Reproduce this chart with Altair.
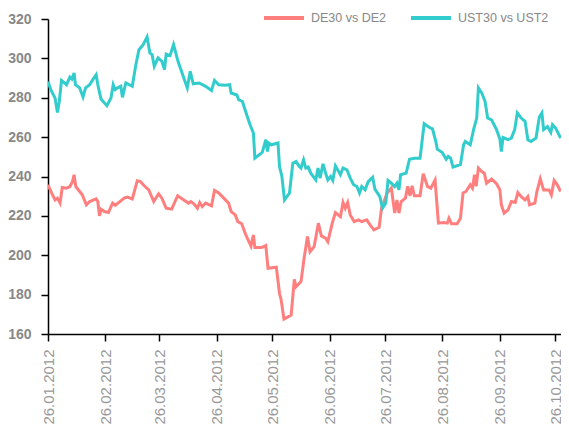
import altair as alt
import pandas as pd

start_date = "2012-01-26"

# DE30 vs DE2 (days after 26.01.2012, spread in bp)
de_days = [0, 2.0, 3.8, 5.1, 6.5, 7.7, 10.0, 11.8, 13.2, 14.1, 15.0, 17.1, 18.5, 20.7, 22.5,
           26.0, 26.9, 27.8, 28.6, 30.5, 32.6, 34.9, 36.3, 39.3, 41.1, 42.9, 45.5, 48.2, 49.9,
           51.8, 54.4, 57.1, 59.7, 61.5, 63.8, 66.8, 68.6, 70.0, 72.7, 75.9, 77.1, 78.9, 80.7,
           81.9, 83.3, 85.1, 88.3, 89.9, 92.2, 94.9, 97.5, 98.9, 101.1, 102.5, 104.6, 106.8,
           109.6, 110.9, 111.7, 115.3, 117.6, 118.8, 123.3, 125.0, 125.9, 127.4, 131.3, 133.0,
           133.9, 136.6, 138.3, 140.1, 141.5, 143.7, 146.0, 147.6, 149.9, 151.1, 153.5, 155.2,
           157.9, 159.3, 160.5, 161.8, 163.2, 165.3, 167.6, 169.4, 172.1, 173.9, 176.0, 178.8,
           180.1, 183.1, 185.4, 187.2, 188.4, 189.5, 190.7, 193.0, 194.2, 195.5, 196.6, 197.8,
           200.9, 202.6, 204.9, 206.7, 209.0, 210.8, 213.8, 215.6, 216.5, 217.9, 220.9, 222.7,
           224.1, 225.7, 228.0, 229.2, 230.3, 231.2, 232.4, 234.2, 235.6, 236.8, 239.5, 242.2,
           244.0, 244.8, 246.3, 248.4, 250.2, 252.3, 253.7, 255.5, 257.6, 259.1, 260.0, 262.9,
           264.0, 265.8, 267.6, 270.6, 271.8, 273.3, 275.0, 276.8]
de_vals = [235.8, 231.6, 228.1, 229.0, 226.5, 234.4, 234.1, 234.9, 237.4, 240.9, 234.9, 232.4,
           230.7, 225.6, 227.3, 228.6, 227.3, 220.0, 223.4, 222.2, 221.7, 226.5, 225.4, 227.6,
           229.0, 229.5, 228.6, 237.8, 237.4, 235.4, 233.2, 227.3, 231.2, 229.0, 223.9, 223.4,
           227.3, 230.2, 228.5, 226.5, 227.3, 226.0, 223.9, 226.8, 224.7, 226.5, 225.1, 232.9,
           231.6, 229.0, 226.5, 222.2, 220.5, 217.1, 216.0, 210.3, 204.7, 210.3, 203.9, 203.9,
           204.9, 193.4, 193.9, 180.7, 177.3, 167.6, 169.6, 187.8, 184.0, 186.6, 198.5, 209.5,
           201.8, 204.4, 216.3, 209.8, 208.7, 206.9, 216.3, 221.7, 219.6, 226.8, 223.9, 226.8,
           220.5, 217.1, 218.0, 217.1, 218.0, 215.4, 212.9, 214.2, 223.9, 231.6, 234.1, 221.4,
           228.1, 221.4, 227.3, 229.0, 235.0, 230.2, 235.3, 230.2, 230.2, 241.4, 235.0, 234.1,
           238.2, 216.3, 216.6, 216.3, 218.8, 216.0, 216.0, 218.8, 231.6, 232.4, 235.8, 234.1,
           240.9, 235.0, 244.3, 242.5, 241.7, 236.6, 238.7, 236.3, 233.2, 225.6, 221.4, 223.1,
           227.3, 226.8, 231.9, 229.8, 228.1, 229.8, 225.6, 226.5, 232.4, 238.8, 233.2, 233.2,
           230.7, 238.0, 235.8, 232.4]

# UST30 vs UST2 (days after 26.01.2012, spread in bp)
us_days = [0, 1.5, 3.8, 5.1, 6.1, 7.3, 10.0, 11.8, 12.9, 14.1, 14.8, 17.1, 18.9, 20.3, 22.5,
           24.2, 26.0, 26.9, 28.6, 31.8, 34.0, 35.2, 36.3, 37.5, 39.3, 40.2, 42.0, 45.5, 47.3,
           49.1, 51.4, 53.5, 55.0, 56.2, 57.4, 59.4, 61.5, 62.9, 63.8, 65.9, 67.8, 70.2, 75.2,
           76.8, 78.4, 81.6, 85.1, 88.3, 89.9, 92.2, 95.7, 98.1, 98.9, 102.0, 102.9, 105.0,
           106.4, 109.1, 110.9, 111.7, 115.7, 117.6, 118.5, 119.2, 120.6, 124.2, 125.0, 126.3,
           127.7, 130.4, 132.2, 133.9, 135.7, 136.6, 138.0, 139.2, 140.5, 141.9, 144.6, 145.8,
           146.9, 148.5, 149.9, 151.1, 152.6, 153.8, 155.2, 157.9, 159.3, 161.4, 163.2, 165.0,
           166.8, 168.2, 169.4, 171.2, 172.9, 175.3, 176.5, 179.2, 180.6, 182.4, 183.6, 185.4,
           187.2, 188.4, 189.5, 190.4, 193.4, 195.2, 197.8, 200.9, 203.1, 205.8, 207.6, 209.4,
           210.2, 212.9, 215.0, 216.1, 217.4, 218.7, 222.7, 224.4, 225.3, 228.0, 229.8, 231.5,
           232.4, 234.2, 236.0, 237.4, 239.5, 242.2, 244.0, 244.8, 245.7, 248.4, 250.2, 252.0,
           253.4, 255.5, 257.6, 259.1, 260.8, 263.5, 265.3, 266.7, 267.6, 269.7, 271.5, 272.4,
           274.1, 276.8]
us_vals = [288.3, 284.1, 279.9, 272.5, 278.1, 288.8, 286.6, 290.5, 289.5, 292.6, 286.6, 285.0,
           280.4, 285.0, 286.6, 289.2, 291.7, 286.6, 279.4, 276.0, 279.9, 286.6, 284.1, 285.0,
           285.8, 280.2, 287.5, 285.8, 296.0, 304.4, 307.0, 310.9, 302.8, 301.9, 296.0, 300.2,
           298.5, 294.3, 302.2, 301.4, 307.0, 298.5, 285.0, 293.4, 287.1, 287.5, 285.8, 283.7,
           288.8, 286.6, 286.3, 286.6, 282.4, 281.4, 279.0, 278.1, 273.9, 266.3, 262.1, 249.3,
           252.2, 258.7, 252.7, 257.0, 256.1, 257.0, 245.1, 240.0, 228.1, 231.6, 246.8, 247.6,
           245.1, 244.3, 248.5, 244.3, 244.8, 241.7, 238.3, 244.3, 239.2, 246.4, 241.7, 238.3,
           240.0, 238.0, 245.4, 240.9, 244.3, 243.4, 239.2, 235.8, 234.9, 231.6, 234.9, 233.2,
           237.4, 239.6, 233.6, 229.8, 223.9, 226.5, 238.0, 236.6, 234.9, 236.6, 233.2, 240.9,
           241.7, 248.8, 249.3, 249.3, 266.8, 265.0, 264.2, 257.8, 253.9, 252.2, 248.8, 250.2,
           249.3, 244.8, 246.0, 256.1, 257.8, 256.1, 263.8, 269.7, 285.0, 282.4, 278.1, 269.7,
           268.8, 263.8, 259.0, 252.7, 259.8, 258.7, 259.5, 263.8, 272.3, 269.7, 268.0, 258.7,
           257.8, 259.5, 270.2, 272.3, 263.8, 265.4, 262.4, 266.3, 264.6, 259.5]

series_names = ["DE30 vs DE2", "UST30 vs UST2"]
series_colors = ["#FF7F7F", "#33CCCC"]
y_ticks = [160, 180, 200, 220, 240, 260, 280, 300, 320]
tick_months = [1, 2, 3, 4, 5, 6, 7, 8, 9, 10]

t0 = pd.Timestamp(start_date)


def frame(days, vals, name):
    return pd.DataFrame({
        "date": t0 + pd.to_timedelta(days, unit="D"),
        "value": vals,
        "series": name,
    })


df = pd.concat([frame(de_days, de_vals, series_names[0]),
                frame(us_days, us_vals, series_names[1])], ignore_index=True)

font = "Liberation Sans, Arial, sans-serif"

chart = alt.Chart(df).mark_line(strokeWidth=3, clip=True).encode(
    x=alt.X("date:T",
            scale=alt.Scale(domain=[alt.DateTime(year=2012, month=1, date=26),
                                    alt.DateTime(year=2012, month=10, date=29)]),
            axis=alt.Axis(values=[alt.DateTime(year=2012, month=m, date=26) for m in tick_months],
                          format="%d.%m.%Y", labelAngle=270, labelAlign="right",
                          labelBaseline="middle", labelFont=font, labelFontSize=15,
                          labelColor="#999999", labelPadding=8, tickSize=7,
                          tickColor="black", tickWidth=1.5, domainColor="black",
                          domainWidth=1.5, grid=False, labelFlush=False,
                          labelOverlap=False, title=None)),
    y=alt.Y("value:Q",
            scale=alt.Scale(domain=[160, 320], nice=False, zero=False),
            axis=alt.Axis(values=y_ticks, labelFont=font, labelFontWeight="bold",
                          labelFontSize=14, labelColor="#888888", labelPadding=10,
                          tickSize=7, tickColor="black", tickWidth=1.5,
                          domainColor="black", domainWidth=1.5, grid=False, title=None)),
    color=alt.Color("series:N",
                    scale=alt.Scale(domain=series_names, range=series_colors),
                    legend=alt.Legend(orient="none", legendX=214, legendY=-23,
                                      direction="horizontal", symbolType="stroke",
                                      symbolSize=1600, symbolStrokeWidth=4,
                                      labelFont=font, labelFontSize=12.5,
                                      labelColor="#888888", labelOffset=5,
                                      columnPadding=16, padding=0, title=None)),
).properties(
    width=513,
    height=315,
    autosize=alt.AutoSizeParams(type="none"),
    padding={"left": 40, "top": 11, "right": 0, "bottom": 90},
).configure_view(stroke=None)

chart.save("out.html", embed_options={"renderer": "svg", "actions": False})
